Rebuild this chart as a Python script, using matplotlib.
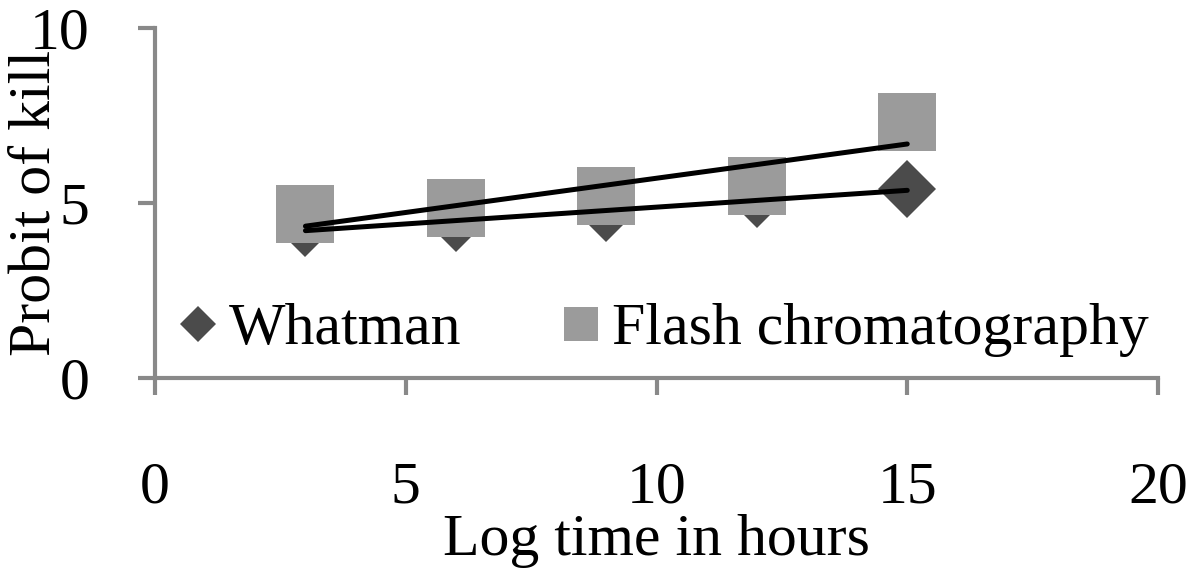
import numpy as np
import matplotlib
matplotlib.use("Agg")
import matplotlib.pyplot as plt
from matplotlib.lines import Line2D

# dane
czas = [3, 6, 9, 12, 15]
whatman = [4.29, 4.43, 4.71, 5.11, 5.39]
flash = [4.69, 4.87, 5.19, 5.50, 7.31]
xticks = [0, 5, 10, 15, 20]
yticks = [0, 5, 10]

plt.rcParams['font.family'] = ['Liberation Serif', 'DejaVu Serif']
fs = 43
grey_axis = '#898989'
c_what = '#4b4b4b'
c_flash = '#9b9b9b'

fig = plt.figure(figsize=(12, 5.76), dpi=100)
ax = fig.add_axes([155/1200, 1 - 378/576, 1003/1200, 350/576])

# punkty
ax.plot(czas, whatman, linestyle='none', marker='D', markersize=29.5,
        color=c_what, markeredgewidth=0, clip_on=False, zorder=2)
ax.plot(czas, flash, linestyle='none', marker='s', markersize=41.5,
        color=c_flash, markeredgewidth=0, clip_on=False, zorder=3)

# linie trendu
for ys in (whatman, flash):
    a, b = np.polyfit(czas, ys, 1)
    xx = np.array([czas[0], czas[-1]])
    ax.plot(xx, a * xx + b, color='black', linewidth=3.6,
            solid_capstyle='round', zorder=4)

ax.set_xlim(0, 20)
ax.set_ylim(0, 10)
ax.set_xticks(xticks)
ax.set_yticks(yticks)
for s in ['top', 'right']:
    ax.spines[s].set_visible(False)
for s in ['left', 'bottom']:
    ax.spines[s].set_color(grey_axis)
    ax.spines[s].set_linewidth(3)
ax.tick_params(axis='x', direction='out', length=12, width=3, color=grey_axis,
               labelsize=fs, pad=48)
ax.tick_params(axis='y', direction='out', length=12, width=3, color=grey_axis,
               labelsize=fs, pad=35)

ax.set_xlabel("Log time in hours", fontsize=fs)
ax.set_ylabel("Probit of kill", fontsize=fs)
ax.xaxis.set_label_coords(0.5, -0.39)
ax.yaxis.set_label_coords(-0.092, 0.5)

# legenda
handles = [
    Line2D([], [], linestyle='none', marker='D', markersize=18.5,
           color=c_what, markeredgewidth=0, label='Whatman'),
    Line2D([], [], linestyle='none', marker='s', markersize=25,
           color=c_flash, markeredgewidth=0, label='Flash chromatography'),
]
ax.legend(handles=handles, ncol=2, frameon=False, fontsize=fs,
          loc='center left', bbox_to_anchor=((174 - 155) / 1003, (378 - 330) / 350),
          borderpad=0, borderaxespad=0, handlelength=0.8, handletextpad=0.12,
          columnspacing=1.6)

fig.savefig("out.png", dpi=100)
